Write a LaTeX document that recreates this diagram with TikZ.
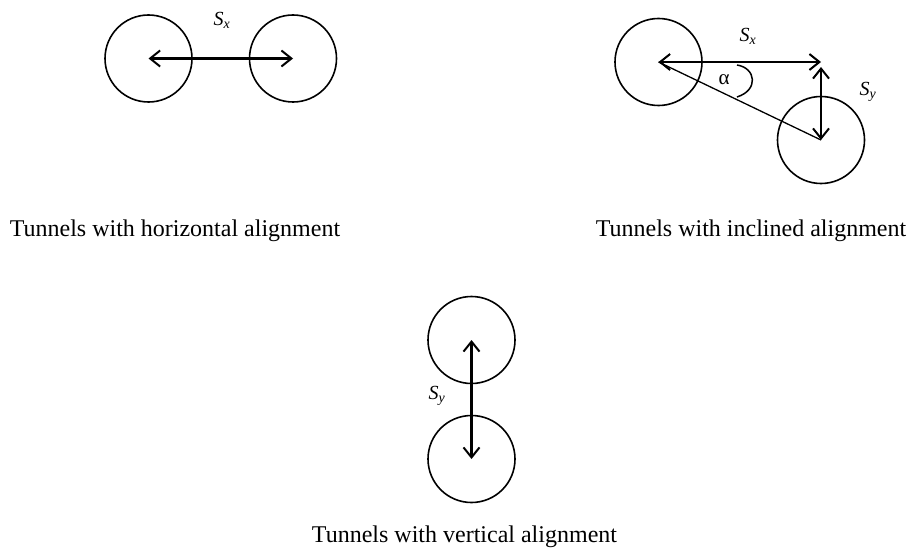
\documentclass[tikz,border=0pt]{standalone}
\usepackage{fontspec}
\setmainfont{Liberation Serif}
\usetikzlibrary{arrows.meta}
\begin{document}
\begin{tikzpicture}[x=1pt,y=-1pt,
  tunnel/.style={draw, circle, line width=1.6pt, minimum size=87pt, inner sep=0pt},
  barb/.tip={Straight Barb[length=10pt,width=16pt,line width=2pt]},
  dim/.style={line width=2.6pt, barb-barb},
  lbl/.style={font=\fontsize{20}{22}\selectfont\itshape, inner sep=0pt},
  captext/.style={font=\fontsize{24}{28}\selectfont, inner sep=0pt, anchor=base}]
\useasboundingbox (0,0) rectangle (907,559);
% horizontal
\node[tunnel] (h1) at (148.5,58.5) {};
\node[tunnel] (h2) at (293,58.5) {};
\draw[dim] (h1.center) -- (h2.center);
\node[lbl] (hsx) at (222,20) {S\textsubscript{x}};
\node[captext] (hcap) at (175,236) {Tunnels with horizontal alignment};
% inclined
\node[tunnel] (i1) at (658.5,62) {};
\node[tunnel] (i2) at (821,140) {};
\coordinate (corner) at (821,62);
\draw[dim] (i1.center) -- (corner);
\draw[dim, shorten <=5pt] (corner) -- (i2.center);
\draw[line width=1.3pt] (i1.center) -- (i2.center);
\draw[line width=1.5pt] (737,65) .. controls (756,68) and (759,90) .. (737,97);
\node[lbl] (isx) at (748,36) {S\textsubscript{x}};
\node[lbl] (isy) at (868,92) {S\textsubscript{y}};
\node[font=\fontsize{21}{22}\selectfont, inner sep=0pt] (ial) at (724,80) {α};
\node[captext] (icap) at (751,236) {Tunnels with inclined alignment};
% vertical
\node[tunnel] (v1) at (471.5,340) {};
\node[tunnel] (v2) at (471.5,459) {};
\draw[dim] (v1.center) -- (v2.center);
\node[lbl] (vsy) at (437,396) {S\textsubscript{y}};
\node[captext] (vcap) at (464.5,542) {Tunnels with vertical alignment};
\end{tikzpicture}
\end{document}
